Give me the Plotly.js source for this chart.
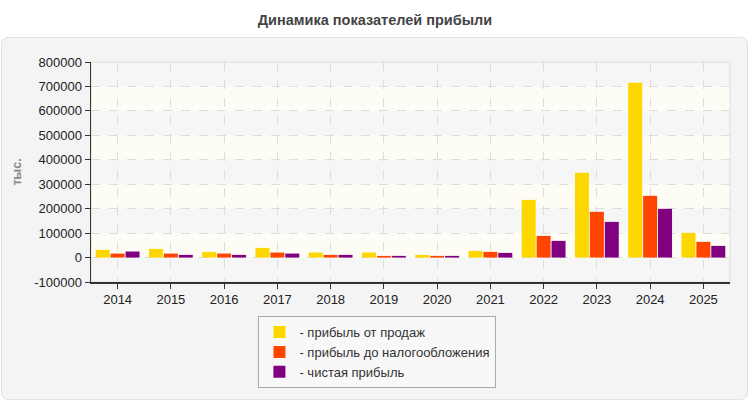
<!DOCTYPE html>
<html>
<head>
<meta charset="utf-8">
<script src="https://cdn.plot.ly/plotly-3.0.1.min.js"></script>
<style>
  html, body { margin: 0; padding: 0; background: white; }
  #wrap { position: relative; width: 750px; height: 400px; }
  #panel {
    position: absolute; left: 1px; top: 37px; width: 745px; height: 361px;
    background: #f4f4f4; border: 1px solid #e2e2e2; border-radius: 7px;
  }
  #chart { position: absolute; left: 0; top: 0; width: 750px; height: 400px; }
</style>
</head>
<body>
<div id="wrap">
  <div id="panel"></div>
  <div id="chart"></div>
</div>
<script>
// Profit dynamics, thousand roubles
const years = ['2014', '2015', '2016', '2017', '2018', '2019', '2020', '2021', '2022', '2023', '2024', '2025'];
const salesProfit = [31400, 35500, 23200, 39600, 20500, 20500, 10900, 27300, 236000, 346800, 715000, 101000];
const preTaxProfit = [16400, 16400, 16400, 20500, 10900, 6800, 6800, 23200, 88700, 187000, 252600, 64200];
const netProfit = [24600, 10900, 10900, 16400, 10900, 6800, 6800, 19100, 68300, 146000, 199300, 47800];

const seriesNames = ['- прибыль от продаж', '- прибыль до налогообложения', '- чистая прибыль'];
const seriesColors = ['#FFD700', '#FF4500', '#800080'];

// y ticks (plain hyphen for the negative one, as in the source)
const yTickVals = [-100000, 0, 100000, 200000, 300000, 400000, 500000, 600000, 700000, 800000];
const yTickText = ['-100000', '0', '100000', '200000', '300000', '400000', '500000', '600000', '700000', '800000'];

// light cream bands between every other gridline
const bandStarts = [0, 200000, 400000, 600000];

const font = '"Liberation Sans", Arial, sans-serif';

const traces = [salesProfit, preTaxProfit, netProfit].map((vals, i) => ({
  type: 'bar',
  x: years,
  y: vals,
  name: seriesNames[i],
  marker: { color: seriesColors[i], line: { width: 0 } },
  hovertemplate: '%{x}: %{y}<extra></extra>'
}));

const shapes = bandStarts.map(b => ({
  type: 'rect', xref: 'paper', yref: 'y', layer: 'below',
  x0: 0, x1: 1, y0: b, y1: b + 100000,
  fillcolor: '#fdfdf6', line: { width: 0 }
}));
// light frame round the plot area
shapes.push({
  type: 'rect', xref: 'paper', yref: 'paper', layer: 'below',
  x0: 0, x1: 1, y0: 0, y1: 1,
  line: { color: '#dcdcdc', width: 1 }
});

const layout = {
  width: 750,
  height: 400,
  margin: { l: 91, r: 20, t: 62, b: 118 },
  paper_bgcolor: 'rgba(0,0,0,0)',
  plot_bgcolor: '#f6f6f6',
  font: { family: font, size: 13, color: '#222' },
  title: {
    text: '<b>Динамика показателей прибыли</b>',
    font: { family: font, size: 14.5, color: '#444' },
    x: 0.5, xanchor: 'center',
    yref: 'container', y: 0.95, yanchor: 'middle'
  },
  barmode: 'group',
  bargap: 0.16,
  bargroupgap: 0.06,
  xaxis: {
    type: 'category',
    showgrid: true,
    gridcolor: '#dddddd',
    griddash: 'dash',
    showline: true,
    linecolor: '#333',
    linewidth: 1.5,
    ticks: 'outside',
    ticklen: 5,
    tickcolor: '#333',
    tickfont: { size: 13, color: '#222' }
  },
  yaxis: {
    range: [-100000, 800000],
    tickmode: 'array',
    tickvals: yTickVals,
    ticktext: yTickText,
    showgrid: true,
    gridcolor: '#dddddd',
    griddash: 'dash',
    zeroline: false,
    showline: true,
    linecolor: '#333',
    linewidth: 1.5,
    ticks: 'outside',
    ticklen: 5,
    tickcolor: '#333',
    tickfont: { size: 13, color: '#222' },
    title: {
      text: '<b>тыс.</b>',
      font: { size: 12.5, color: '#888' },
      standoff: 10
    }
  },
  shapes: shapes,
  showlegend: true,
  legend: {
    x: 0.262, xanchor: 'left',
    y: -0.155, yanchor: 'top',
    bgcolor: '#f8f8f8',
    bordercolor: '#aaaaaa',
    borderwidth: 1,
    font: { size: 13, color: '#333' },
    tracegroupgap: 0,
    itemwidth: 30
  }
};

Plotly.newPlot('chart', traces, layout, { displayModeBar: false, staticPlot: true });
</script>
</body>
</html>
